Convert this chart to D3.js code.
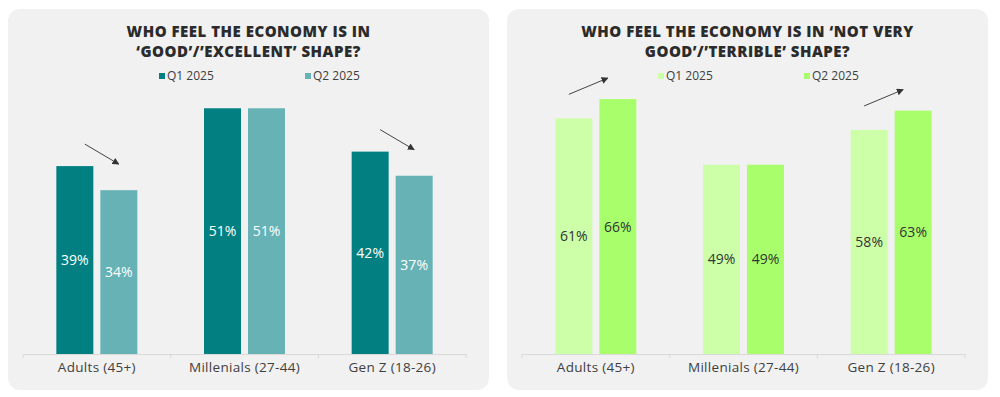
<!DOCTYPE html>
<html>
<head>
<meta charset="utf-8">
<script src="https://cdn.jsdelivr.net/npm/d3@7"></script>
<style>
  html, body { margin: 0; padding: 0; background: #ffffff; }
  svg { display: block; }
</style>
</head>
<body>
<svg id="chart" width="1000" height="397"></svg>
<script>
// ---- data ----
const categories = ["Adults (45+)", "Millenials (27-44)", "Gen Z (18-26)"];
const seriesNames = ["Q1 2025", "Q2 2025"];
const goodQ1 = [39, 51, 42];
const goodQ2 = [34, 51, 37];
const badQ1 = [61, 49, 58];
const badQ2 = [66, 49, 63];
const goodTitle = ["WHO FEEL THE ECONOMY IS IN", "\u2018GOOD\u2019/\u2019EXCELLENT\u2019 SHAPE?"];
const badTitle = ["WHO FEEL THE ECONOMY IS IN \u2018NOT VERY", "GOOD\u2019/\u2019TERRIBLE\u2019 SHAPE?"];
const goodArrows = [0, 2];   // category indices with trend arrows
const badArrows = [0, 2];

const svg = d3.select("#chart");
const titleFont = "'Open Sans', Lato, sans-serif";
const bodyFont = "'Open Sans', 'Noto Sans', sans-serif";

svg.append("defs").append("marker")
  .attr("id", "arrowhead")
  .attr("viewBox", "0 0 10 10")
  .attr("refX", 9).attr("refY", 5)
  .attr("markerWidth", 7).attr("markerHeight", 7)
  .attr("markerUnits", "userSpaceOnUse")
  .attr("orient", "auto")
  .append("path").attr("d", "M0,0 L10,5 L0,10 Z").attr("fill", "#333");

function drawPanel(cfg) {
  const g = svg.append("g").attr("transform", `translate(${cfg.ox},0)`);
  const panelX = 8, panelW = 481;
  g.append("rect")
    .attr("x", panelX).attr("y", 9)
    .attr("width", panelW).attr("height", 381)
    .attr("rx", 12).attr("fill", "#f1f1f1");
  const cx = panelX + panelW / 2;

  // title
  g.selectAll("text.title").data(cfg.title).join("text")
    .attr("class", "title")
    .attr("x", cx).attr("y", (d, i) => 36.8 + i * 20.6)
    .attr("text-anchor", "middle")
    .attr("font-family", titleFont).attr("font-weight", 800)
    .attr("font-size", 15).attr("letter-spacing", 0.5).attr("fill", "#2b2b2b")
    .text(d => d);

  // legend
  const legX = [159, 305];
  const leg = g.selectAll("g.leg").data(seriesNames).join("g")
    .attr("class", "leg")
    .attr("transform", (d, i) => `translate(${legX[i]},76)`);
  leg.append("rect").attr("x", 0).attr("y", -3).attr("width", 6).attr("height", 6)
    .attr("fill", (d, i) => cfg.colors[i]);
  leg.append("text").attr("x", 8).attr("y", 4.3)
    .attr("font-family", bodyFont).attr("font-size", 12).attr("fill", "#404040")
    .text(d => d);

  // scales
  const baseline = 354;
  const x0 = d3.scaleBand().domain(categories).range([23, 466]).paddingInner(0).paddingOuter(0);
  const x1 = d3.scaleBand().domain(seriesNames).range([0, 81]).paddingInner(7 / 44).paddingOuter(0);
  const y = d3.scaleLinear().domain([0, cfg.yMax]).range([baseline, 89]);
  const groupOff = (x0.bandwidth() - 81) / 2;

  const rows = categories.map((c, i) => ({ cat: c, vals: [cfg.q1[i], cfg.q2[i]] }));

  // bars
  const grp = g.selectAll("g.grp").data(rows).join("g").attr("class", "grp")
    .attr("transform", d => `translate(${x0(d.cat) + groupOff},0)`);
  grp.selectAll("rect").data(d => d.vals.map((v, j) => ({ s: seriesNames[j], v, j })))
    .join("rect")
    .attr("x", d => x1(d.s)).attr("width", x1.bandwidth())
    .attr("y", d => y(d.v)).attr("height", d => baseline - y(d.v))
    .attr("fill", d => cfg.colors[d.j]);
  grp.selectAll("text").data(d => d.vals.map((v, j) => ({ s: seriesNames[j], v, j })))
    .join("text")
    .attr("x", d => x1(d.s) + x1.bandwidth() / 2)
    .attr("y", d => (y(d.v) + baseline) / 2 + 5)
    .attr("text-anchor", "middle")
    .attr("font-family", bodyFont).attr("font-size", 14)
    .attr("fill", cfg.labelColor)
    .text(d => d.v + "%");

  // axis
  const axis = d3.axisBottom(x0).tickSize(0).tickPadding(8);
  const ax = g.append("g").attr("transform", `translate(0,${baseline})`).call(axis);
  ax.select(".domain").attr("stroke", "#d9d9d9");
  ax.selectAll(".tick text").attr("font-family", bodyFont).attr("font-size", 13.5)
    .attr("letter-spacing", 0.3).attr("fill", "#404040");
  const bounds = categories.map(c => x0(c)).concat([x0.range()[1]]);
  ax.selectAll("line.bound").data(bounds).join("line").attr("class", "bound")
    .attr("x1", d => d).attr("x2", d => d).attr("y1", 0).attr("y2", 4)
    .attr("stroke", "#d9d9d9");

  // trend arrows
  g.selectAll("line.arrow").data(cfg.arrows).join("line").attr("class", "arrow")
    .each(function (ci) {
      const c = categories[ci];
      const base = x0(c) + groupOff;
      const xa = base + x1(seriesNames[0]) + x1.bandwidth() / 2;
      const xb = base + x1(seriesNames[1]) + x1.bandwidth() / 2;
      const a = cfg.arrowOff;
      d3.select(this)
        .attr("x1", xa + a[0]).attr("y1", y(cfg.q1[ci]) + a[1])
        .attr("x2", xb + a[2]).attr("y2", y(cfg.q2[ci]) + a[3]);
    })
    .attr("stroke", "#444").attr("stroke-width", 1)
    .attr("marker-end", "url(#arrowhead)");
}

drawPanel({
  ox: 0, title: goodTitle, q1: goodQ1, q2: goodQ2, yMax: 55,
  colors: ["#027f81", "#66b2b5"], labelColor: "#ffffff",
  arrows: goodArrows, arrowOff: [10, -22, 0, -26]
});
drawPanel({
  ox: 499, title: badTitle, q1: badQ1, q2: badQ2, yMax: 68.6,
  colors: ["#cdffa8", "#a9ff6b"], labelColor: "#333333",
  arrows: badArrows, arrowOff: [-5, -24, -10, -21]
});
</script>
</body>
</html>
